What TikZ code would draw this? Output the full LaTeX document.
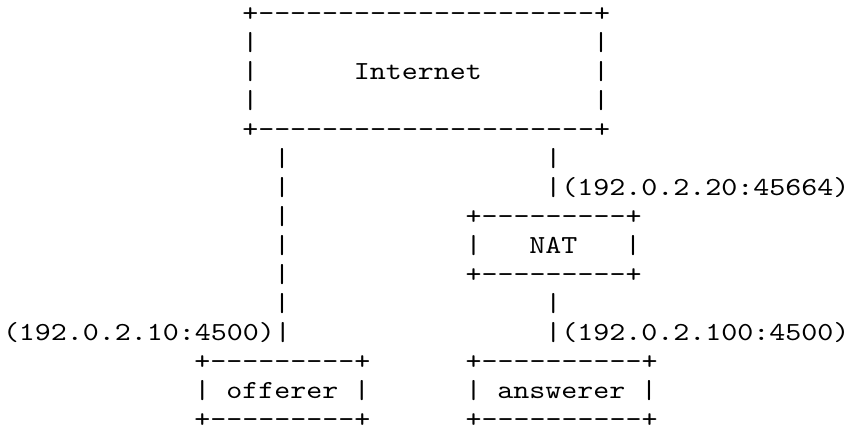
\documentclass[tikz,border=0pt]{standalone}
\usepackage{fontspec}
\setmonofont{lmmono10-regular.otf}[FakeStretch=1.172]
\tikzset{
  txt/.style={inner sep=0pt, outer sep=0pt, anchor=base west, text=black,
    font=\ttfamily\fontsize{26pt}{29pt}\selectfont}
}
% #1 name, #2 column, #3 row, #4 text
\newcommand\asc[4]{\node[txt] (#1) at ({3+15.95*#2},{-(21+29.0*#3)}) {#4};}
\begin{document}
\begin{tikzpicture}[x=1pt,y=1pt]
\useasboundingbox[fill=white] (0,0) rectangle (850,-434);
% Internet box
\asc{inettop}{15}{0}{+---------------------+}
\asc{inetl1}{15}{1}{|}\asc{inetr1}{37}{1}{|}
\asc{inetl2}{15}{2}{|}\asc{inet}{22}{2}{Internet}\asc{inetr2}{37}{2}{|}
\asc{inetl3}{15}{3}{|}\asc{inetr3}{37}{3}{|}
\asc{inetbot}{15}{4}{+---------------------+}
% left link
\asc{la5}{17}{5}{|}
\asc{la6}{17}{6}{|}
\asc{la7}{17}{7}{|}
\asc{la8}{17}{8}{|}
\asc{la9}{17}{9}{|}
\asc{la10}{17}{10}{|}
\asc{offaddr}{0}{11}{(192.0.2.10:4500)|}
% right link above NAT
\asc{ra5}{34}{5}{|}
\asc{nataddr}{34}{6}{|(192.0.2.20:45664)}
% NAT box
\asc{nattop}{29}{7}{+---------+}
\asc{natl}{29}{8}{|}\asc{nat}{33}{8}{NAT}\asc{natr}{39}{8}{|}
\asc{natbot}{29}{9}{+---------+}
% right link below NAT
\asc{rb10}{34}{10}{|}
\asc{ansaddr}{34}{11}{|(192.0.2.100:4500)}
% offerer box
\asc{offtop}{12}{12}{+---------+}
\asc{offl}{12}{13}{|}\asc{off}{14}{13}{offerer}\asc{offr}{22}{13}{|}
\asc{offbot}{12}{14}{+---------+}
% answerer box
\asc{anstop}{29}{12}{+----------+}
\asc{ansl}{29}{13}{|}\asc{ans}{31}{13}{answerer}\asc{ansr}{40}{13}{|}
\asc{ansbot}{29}{14}{+----------+}
\end{tikzpicture}
\end{document}
